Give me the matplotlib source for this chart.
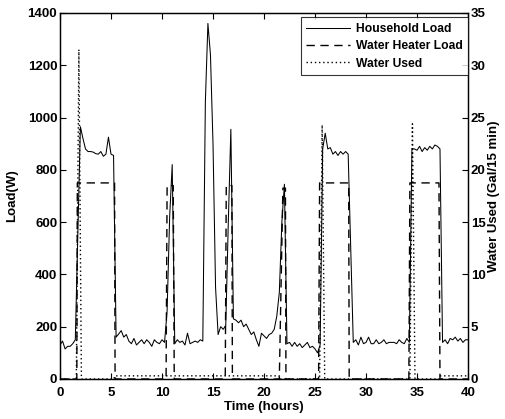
import numpy as np
import matplotlib
matplotlib.use("Agg")
import matplotlib.pyplot as plt

plt.rcParams['font.family'] = ['Liberation Sans', 'DejaVu Sans']
plt.rcParams['font.weight'] = 'bold'

# Household load, 15-minute samples from 0 to 40 h (W)
household_load = [
    130, 145, 115, 125,   125, 135, 150, 560,   965, 920, 880, 870,
    870, 868, 862, 860,   870, 852, 860, 925,   860, 855, 160, 172,
    185, 160, 170, 145,   135, 155, 130, 140,   150, 135, 150, 140,
    125, 150, 140, 135,   150, 140, 260, 620,   820, 135, 150, 140,
    145, 130, 175, 135,   140, 145, 140, 150,   145, 1060, 1360, 1240,
    900, 350, 170, 200,   190, 205, 600, 955,   230, 225, 215, 225,
    200, 210, 190, 170,   180, 150, 125, 175,   165, 155, 170, 175,
    190, 240, 330, 600,   745, 135, 140, 125,   140, 125, 135, 120,
    130, 140, 120, 125,   115, 100, 130, 880,   940, 880, 885, 860,
    870, 855, 870, 860,   870, 860, 500, 140,   150, 130, 160, 135,
    140, 160, 135, 135,   150, 135, 140, 150,   135, 140, 140, 140,
    135, 150, 140, 135,   155, 140, 880, 880,   875, 890, 870, 885,
    875, 890, 880, 895,   890, 880, 140, 150,   135, 155, 150, 160,
    145, 155, 140, 150,   150,
]
load_time = [i * 0.25 for i in range(len(household_load))]

# Water heater load breakpoints (h, W)
wh_time = [0, 1.65, 1.7, 5.35, 5.4, 10.4, 10.5, 11.1, 11.2, 16.2, 16.3, 16.85,
           16.9, 21.5, 21.85, 22.1, 22.15, 25.35, 25.45, 28.3, 28.35, 34.2,
           34.3, 37.15, 37.25, 40]
wh_load = [0, 0, 750, 750, 0, 0, 740, 740, 0, 0, 740, 740,
           0, 0, 730, 730, 0, 0, 750, 750, 0, 0,
           750, 750, 0, 0]

# Water used breakpoints (h, gal / 15 min)
wu_time = [0, 1.6, 1.85, 2.1, 5.3, 5.35, 21.5, 21.55, 25.45, 25.7, 25.95,
           34.3, 34.55, 34.8, 37.25, 37.3, 40]
wu_gal = [0, 0, 31.5, 0, 0, 0.3, 0.3, 0, 0, 24.3, 0,
          0, 24.4, 0, 0, 0.3, 0.3]

x_ticks = [0, 5, 10, 15, 20, 25, 30, 35, 40]
left_ticks = [0, 200, 400, 600, 800, 1000, 1200, 1400]
right_ticks = [0, 5, 10, 15, 20, 25, 30, 35]

fig = plt.figure(figsize=(5.05, 4.19), dpi=100)
ax = fig.add_axes([0.1188, 0.0955, 0.808, 0.8735])
ax2 = ax.twinx()

h1, = ax.plot(load_time, household_load, color='black', lw=0.75, label='Household Load')
h2, = ax.plot(wh_time, wh_load, color='black', lw=1.0, dashes=(6, 4), label='Water Heater Load')
h3, = ax2.plot(wu_time, wu_gal, color='black', lw=1.0, linestyle=(0, (1, 2)), label='Water Used')

ax.set_xlim(0, 40)
ax.set_ylim(0, 1400)
ax2.set_ylim(0, 35)
ax.set_xticks(x_ticks)
ax.set_yticks(left_ticks)
ax2.set_yticks(right_ticks)

fs = 9.5
ax.tick_params(axis='both', direction='in', length=4, width=0.8, labelsize=fs, top=True, pad=2)
ax.tick_params(axis='x', pad=6)
ax.tick_params(axis='y', right=False)
ax2.tick_params(axis='y', direction='in', length=4, width=0.8, labelsize=fs, pad=2)
for lab in ax.get_xticklabels() + ax.get_yticklabels() + ax2.get_yticklabels():
    lab.set_fontweight('bold')

ax.set_xlabel('Time (hours)', fontsize=fs, fontweight='bold', labelpad=1)
ax.set_ylabel('Load(W)', fontsize=fs, fontweight='bold', labelpad=7)
ax2.set_ylabel('Water Used (Gal/15 min)', fontsize=fs, fontweight='bold', labelpad=2)

for a in (ax, ax2):
    for s in a.spines.values():
        s.set_linewidth(0.9)

leg = ax2.legend([h1, h2, h3], ['Household Load', 'Water Heater Load', 'Water Used'],
                 loc='upper right', bbox_to_anchor=(1.0, 0.988), frameon=True, fancybox=False,
                 borderaxespad=0.0, handlelength=3.6, handletextpad=0.5,
                 labelspacing=0.45, borderpad=0.45, prop={'weight': 'bold', 'size': 8.7})
leg.get_frame().set_edgecolor('black')
leg.get_frame().set_linewidth(0.8)

fig.savefig('out.png', dpi=100)
